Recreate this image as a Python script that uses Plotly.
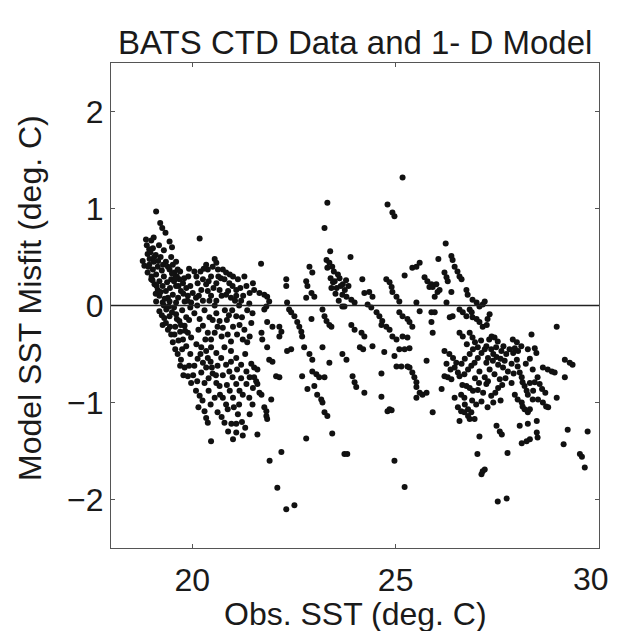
import plotly.graph_objects as go

# ---- data (obs SST, model misfit) ----
pts_a = [
    (19.11, 0.97), (19.21, 0.85), (19.26, 0.80), (19.34, 0.75), (19.44, 0.66), (19.50, 0.60),
    (18.86, 0.68), (18.99, 0.67), (18.94, 0.58), (19.03, 0.59), (18.90, 0.53),
    (18.78, 0.46), (18.82, 0.41), (18.94, 0.42), (19.03, 0.37), (18.90, 0.34), (19.11, 0.32),
    (18.99, 0.27), (19.19, 0.25), (19.07, 0.22), (19.27, 0.20), (19.15, 0.16), (19.35, 0.15),
    (19.19, 0.10), (19.40, 0.08), (19.11, 0.04), (19.27, 0.03),
    (19.44, 0.37), (19.52, 0.42), (19.56, 0.34), (19.48, 0.27), (19.64, 0.37), (19.68, 0.27),
    (19.60, 0.20), (19.77, 0.23), (19.72, 0.15), (19.85, 0.18), (19.89, 0.10), (19.81, 0.04),
    (19.97, 0.03), (20.01, 0.13), (19.52, 0.11), (19.44, 0.04), (19.60, 0.03),
    (19.19, -0.06), (19.31, -0.13), (19.27, -0.20), (19.40, -0.25), (19.48, -0.30), (19.52, -0.38),
    (19.60, -0.09), (19.68, -0.16), (19.81, -0.21), (19.89, -0.28), (19.97, -0.33), (19.77, -0.35),
    (19.44, -0.11),
    (18.95, 0.48), (19.05, 0.45), (19.15, 0.40), (19.25, 0.36), (19.30, 0.30), (19.38, 0.24),
    (19.45, 0.18), (19.55, 0.25), (19.62, 0.30), (19.70, 0.35), (19.35, 0.45), (19.22, 0.50),
    (19.10, 0.52), (19.00, 0.30), (19.10, 0.12), (19.30, 0.00), (19.36, -0.04), (19.55, -0.02),
    (19.65, 0.08), (19.75, -0.05), (19.85, -0.12), (19.58, -0.22), (19.70, -0.27), (19.95, 0.20),
    (19.90, 0.30), (20.05, 0.35),
    (18.88, 0.62), (18.97, 0.55), (19.06, 0.50), (19.16, 0.46), (19.28, 0.42), (19.40, 0.40),
    (19.50, 0.33), (19.58, 0.28), (19.66, 0.20), (19.78, 0.12), (19.88, 0.05), (19.95, -0.02),
    (18.92, 0.40), (19.02, 0.26), (19.12, 0.20), (19.22, 0.14), (19.32, 0.07), (19.42, -0.01),
    (19.50, -0.07), (19.62, -0.14), (19.72, -0.20), (19.82, -0.26), (19.92, -0.15), (19.25, -0.10),
    (19.35, -0.18), (19.45, -0.22), (19.56, -0.30), (19.66, -0.36), (19.80, 0.28), (19.92, 0.38),
    (19.60, 0.45), (19.48, 0.50), (19.30, 0.57), (19.18, 0.62), (19.05, 0.70),
]

pts_b = [
    (20.18, 0.69), (20.55, 0.48), (20.50, 0.40), (20.59, 0.44),
    (20.34, 0.42), (20.38, 0.37), (20.46, 0.30), (20.63, 0.37), (20.75, 0.37), (20.83, 0.34),
    (20.79, 0.27), (20.91, 0.23), (20.99, 0.20), (21.08, 0.16), (21.12, 0.27), (20.26, 0.27),
    (20.34, 0.22), (20.13, 0.23), (20.22, 0.16), (20.38, 0.15), (20.46, 0.10), (20.59, 0.23),
    (20.67, 0.16), (20.83, 0.11), (20.95, 0.08), (21.08, 0.10), (21.20, 0.05), (21.33, 0.20),
    (21.41, 0.13), (21.49, 0.23), (20.09, 0.08), (20.26, 0.05), (20.59, 0.05),
    (20.05, -0.08), (20.18, -0.14), (20.26, -0.21), (20.38, -0.28), (20.46, -0.35), (20.59, -0.08),
    (20.67, -0.16), (20.75, -0.23), (20.87, -0.30), (20.95, -0.37), (21.08, -0.11), (21.16, -0.20),
    (21.28, -0.25), (21.41, -0.32), (21.45, -0.18), (21.24, -0.35),
    (20.20, 0.35), (20.42, 0.05), (20.70, 0.28), (20.88, 0.15), (21.00, 0.30), (21.25, 0.10),
    (20.30, -0.05), (20.50, -0.15), (20.80, -0.05), (21.00, -0.22), (21.35, -0.05), (20.12, 0.00),
    (20.55, -0.28), (21.15, 0.00),
    (20.10, 0.30), (20.16, 0.10), (20.28, 0.38), (20.40, 0.25), (20.52, 0.18), (20.64, 0.30),
    (20.72, 0.10), (20.92, 0.32), (21.05, 0.05), (21.18, 0.18), (21.28, 0.30), (21.40, 0.02),
    (20.15, -0.25), (20.32, -0.35), (20.42, -0.12), (20.62, -0.22), (20.72, -0.32), (20.85, -0.15),
    (20.98, -0.05), (21.10, -0.30), (21.22, -0.12), (21.35, -0.38), (21.48, -0.08), (20.55, 0.00),
    (20.90, -0.10),
]

pts_c = [
    (19.64, -0.50), (19.72, -0.56), (19.81, -0.64), (19.89, -0.73), (19.97, -0.80), (20.09, -0.88),
    (20.18, -0.93), (20.13, -0.55), (20.26, -0.59), (20.34, -0.64), (20.22, -0.69), (20.30, -0.80),
    (20.59, -0.80), (20.67, -0.83),
    (20.46, -0.43), (20.59, -0.49), (20.71, -0.54), (20.83, -0.61), (20.91, -0.68), (20.99, -0.74),
    (21.08, -0.81), (21.16, -0.88), (21.24, -0.92),
    (20.79, -0.43), (20.95, -0.47), (21.08, -0.54), (21.20, -0.61), (21.33, -0.68), (21.41, -0.74),
    (21.49, -0.85), (21.33, -0.81),
    (20.75, -0.95), (20.83, -1.02), (20.87, -1.07), (21.41, -1.12), (20.30, -1.09), (20.34, -1.16),
    (20.38, -1.21), (20.79, -1.21), (20.96, -1.22), (21.08, -1.22), (21.08, -1.31), (21.24, -1.34),
    (20.46, -1.40), (20.22, -0.43), (20.34, -0.47),
    (19.58, -0.45), (19.75, -0.45), (19.95, -0.50), (20.05, -0.62), (20.45, -0.58), (20.50, -0.70),
    (20.40, -0.75), (20.62, -0.62), (20.75, -0.72), (20.85, -0.82), (21.00, -0.95), (21.15, -1.02),
    (20.95, -0.58), (21.30, -0.50), (21.45, -0.60), (20.10, -0.40), (19.85, -0.42),
    (19.70, -0.62), (19.78, -0.72), (19.92, -0.62), (20.02, -0.72), (20.12, -0.78), (20.20, -0.50),
    (20.38, -0.54), (20.48, -0.64), (20.58, -0.72), (20.68, -0.92), (20.55, -0.95), (20.45, -1.02),
    (20.62, -1.10), (20.72, -1.15), (20.92, -0.88), (21.02, -1.05), (21.12, -1.12), (21.22, -1.20),
    (21.30, -1.26), (21.20, -0.75), (21.10, -0.66), (21.40, -0.95), (21.48, -1.02), (20.25, -0.98),
    (20.15, -1.05), (20.40, -0.88), (20.88, -1.30), (21.00, -1.38),
]

pts_d = [
    (23.32, 1.06), (23.25, 0.80), (23.39, 0.56), (21.69, 0.43), (23.89, 0.50),
    (23.30, 0.47), (23.37, 0.44), (23.44, 0.40), (23.32, 0.39), (22.88, 0.40), (22.95, 0.34),
    (22.80, 0.25), (22.83, 0.20), (22.93, 0.13), (23.00, 0.09), (22.31, 0.27), (22.31, 0.20),
    (23.40, 0.28), (23.50, 0.25), (23.62, 0.28), (23.70, 0.22), (23.55, 0.18), (23.65, 0.20),
    (23.75, 0.16), (23.42, 0.18), (23.69, 0.11), (23.79, 0.09), (23.91, 0.06), (23.99, 0.03),
    (24.18, 0.27), (24.23, 0.13), (24.35, 0.14),
    (23.48, 0.35), (23.58, 0.32), (23.52, 0.12), (23.60, 0.05), (23.84, 0.20), (23.46, 0.24),
    (23.78, 0.26),
    (21.52, 0.16), (21.65, 0.13), (21.77, 0.11), (21.84, 0.09), (21.89, 0.04), (21.82, -0.01),
    (21.77, -0.04),
    (22.33, 0.03), (22.38, -0.04), (22.43, -0.07), (22.51, -0.11), (22.58, -0.17), (22.63, -0.22),
    (22.68, -0.27), (22.70, -0.32), (22.80, 0.08), (22.93, -0.14),
    (23.20, -0.04), (23.25, -0.11), (23.30, -0.16), (23.37, -0.20), (23.42, -0.22), (23.69, -0.01),
    (23.74, -0.01), (23.91, -0.20), (23.99, -0.25), (24.16, -0.28), (24.23, -0.32),
    (21.84, -0.17), (21.97, -0.22), (22.14, -0.22), (22.19, -0.27), (22.14, -0.32), (21.70, -0.28),
    (21.72, -0.35), (24.31, 0.01), (24.40, -0.02),
    (21.60, -1.33), (22.19, -1.51), (21.90, -1.60), (22.80, -1.37), (23.44, -1.32), (23.74, -1.53),
    (23.81, -1.53), (22.09, -1.88), (22.31, -2.10), (22.51, -2.06),
    (21.82, -1.14), (21.82, -1.09), (21.77, -1.05), (21.84, -1.17), (21.94, -0.97),
    (21.60, -0.81), (21.65, -0.90), (21.70, -0.92), (21.52, -0.74), (21.57, -0.78),
    (22.06, -0.73), (22.14, -0.74), (22.70, -0.73), (22.83, -0.86), (23.00, -0.83),
    (23.07, -0.92), (23.17, -0.97), (23.20, -1.00), (23.25, -1.10), (23.32, -1.14),
    (22.95, -0.68), (23.05, -0.71), (23.12, -0.74), (23.25, -0.74), (23.37, -0.59),
    (22.75, -0.43), (22.88, -0.50), (22.95, -0.56),
    (23.94, -0.73), (23.99, -0.79), (24.03, -0.84), (24.23, -0.90),
    (23.69, -0.50), (23.79, -0.56), (23.20, -0.43), (24.12, -0.43), (24.20, -0.45),
    (21.89, -0.56), (21.97, -0.58), (21.52, -0.64), (21.60, -0.66), (22.33, -0.47), (22.43, -0.45),
    (21.84, -0.43),
]

pts_e = [
    (25.17, 1.32), (24.80, 1.04), (24.97, 0.92), (24.92, 0.96),
    (26.23, 0.64), (26.05, 0.48),
    (26.37, 0.51), (26.40, 0.47), (26.45, 0.40), (26.52, 0.35), (26.57, 0.30), (26.62, 0.27),
    (25.41, 0.39), (25.51, 0.40), (25.59, 0.44), (25.22, 0.31),
    (25.71, 0.29), (25.78, 0.25), (25.88, 0.22), (25.83, 0.19), (25.91, 0.19), (26.00, 0.22),
    (26.20, 0.34), (26.25, 0.29), (26.28, 0.25),
    (24.77, 0.27), (24.85, 0.24), (24.90, 0.19), (24.92, 0.14), (25.02, 0.09), (25.09, 0.04),
    (24.43, 0.09), (26.37, 0.14), (25.96, 0.09), (26.03, 0.14), (26.08, 0.16),
    (26.74, 0.16), (26.77, 0.11),
    (26.89, 0.06), (26.99, 0.03), (27.06, -0.01), (27.14, 0.01), (27.19, 0.04),
    (25.51, 0.03), (25.59, -0.06), (26.25, 0.03),
    (24.53, -0.07), (24.60, -0.11), (24.67, -0.16), (24.65, -0.20), (24.77, -0.22),
    (25.09, -0.07), (25.17, -0.11), (25.29, -0.14), (25.34, -0.17), (25.41, -0.22),
    (25.88, -0.07), (25.96, -0.07), (25.88, -0.17), (25.91, -0.28),
    (26.40, -0.11), (26.33, -0.12),
    (26.57, -0.04), (26.65, -0.07), (26.74, -0.11), (26.82, -0.04), (26.87, -0.07), (26.89, -0.12),
    (26.99, -0.14), (27.06, -0.17), (27.14, -0.22),
    (24.85, -0.25), (24.92, -0.32), (25.02, -0.35), (25.17, -0.32), (25.29, -0.33),
    (26.57, -0.28), (26.65, -0.32), (26.82, -0.28), (26.89, -0.33),
    (24.43, -0.42), (24.72, -0.48), (25.09, -0.45), (25.22, -0.45), (25.34, -0.44),
    (24.97, -0.52), (25.02, -0.63), (25.14, -0.63), (25.29, -0.63), (25.34, -0.64),
    (24.65, -0.70), (25.76, -0.57),
    (25.41, -0.69), (25.46, -0.74), (25.51, -0.79), (25.51, -0.84), (25.59, -0.90), (25.66, -0.92),
    (25.76, -0.90), (25.51, -0.95),
    (24.65, -0.94), (24.85, -1.07), (24.80, -1.09), (24.90, -1.08), (25.91, -1.10), (26.13, -0.86),
    (26.20, -0.47), (26.32, -0.50), (26.41, -0.54), (26.49, -0.59), (26.45, -0.64), (26.53, -0.69),
    (26.20, -0.73), (26.28, -0.74), (26.37, -0.76), (26.57, -0.73), (26.69, -0.71), (26.78, -0.66),
    (26.86, -0.62), (26.94, -0.59), (27.02, -0.54), (27.11, -0.49), (27.19, -0.45), (26.82, -0.50),
    (26.90, -0.45), (27.02, -0.43), (26.74, -0.83), (26.82, -0.85), (26.90, -0.88), (27.02, -0.87),
    (27.15, -0.90), (26.61, -0.92), (26.69, -0.95), (26.53, -1.05), (26.61, -1.09), (26.69, -1.10),
    (26.78, -1.07), (26.86, -1.10), (26.78, -1.14), (26.82, -1.17), (26.94, -1.17), (26.57, -1.19),
    (26.98, -1.02), (27.11, -0.99), (27.23, -0.81), (27.19, -0.74), (27.06, -0.68), (27.23, -0.59),
    (27.06, -1.35), (27.01, -1.53), (27.14, -1.71), (27.11, -1.74), (24.97, -1.60), (25.22, -1.87),
    (26.25, -0.60), (26.35, -0.66), (26.62, -0.60), (26.70, -0.55), (26.64, -0.82), (26.95, -0.75),
    (27.05, -0.80), (26.88, -0.98), (26.70, -1.02), (26.45, -0.95), (26.95, -0.38), (27.10, -0.36),
    (26.75, -0.40),
]

pts_f = [
    (27.31, -0.09), (27.26, -0.14), (27.24, -0.20), (28.96, -0.22), (28.34, -0.30), (27.36, -0.32),
    (27.43, -0.33), (27.51, -0.37), (27.88, -0.35), (27.98, -0.38),
    (27.93, -0.44), (27.89, -0.49), (28.01, -0.47), (28.09, -0.42), (28.25, -0.45), (28.42, -0.44),
    (28.46, -0.49),
    (27.98, -0.56), (28.00, -0.63), (28.05, -0.69), (28.10, -0.74), (28.12, -0.79), (28.17, -0.83),
    (28.22, -0.88), (28.25, -0.92),
    (28.37, -0.66), (28.49, -0.74), (28.42, -0.79), (28.54, -0.81),
    (28.62, -0.64), (28.74, -0.66), (28.84, -0.68), (28.91, -0.69),
    (29.16, -0.56), (29.28, -0.59), (29.35, -0.61), (29.16, -0.74), (28.96, -0.95),
    (27.93, -0.92), (28.00, -0.97), (28.10, -1.00), (28.12, -1.04), (28.17, -1.07), (28.25, -1.10),
    (28.30, -1.07), (28.37, -0.97), (28.50, -0.97), (28.62, -1.00), (28.70, -1.04), (28.75, -1.05),
    (27.26, -1.05), (27.48, -1.24), (27.56, -1.30), (27.61, -1.33),
    (28.05, -1.24), (28.25, -1.22), (28.47, -1.19),
    (28.47, -1.31), (28.49, -1.36), (28.30, -1.38), (28.22, -1.40), (28.10, -1.42),
    (29.23, -1.28), (29.72, -1.30), (29.13, -1.43), (29.53, -1.53), (29.58, -1.56), (29.65, -1.67),
    (27.75, -1.52), (27.19, -1.69), (27.51, -2.02), (27.73, -1.99),
    (27.23, -0.42), (27.35, -0.45), (27.47, -0.43), (27.60, -0.47), (27.72, -0.50), (27.27, -0.54),
    (27.39, -0.57), (27.52, -0.61), (27.64, -0.64), (27.76, -0.68), (27.31, -0.66), (27.43, -0.71),
    (27.56, -0.76), (27.27, -0.78), (27.52, -0.85), (27.35, -0.93), (27.68, -0.57), (27.80, -0.45),
    (27.30, -0.35), (27.40, -0.50), (27.48, -0.53), (27.58, -0.55), (27.65, -0.42), (27.70, -0.75),
    (27.62, -0.82), (27.45, -0.90), (27.40, -1.00), (27.58, -0.98), (27.85, -0.60), (27.85, -0.80),
    (27.90, -0.70), (28.30, -0.55), (28.20, -0.60), (28.30, -0.80), (28.38, -0.88), (28.60, -0.86),
    (28.68, -0.90),
]

x_ticks = [20, 25, 30]
x_tick_text = ["20", "25", "30"]
y_ticks = [-2, -1, 0, 1, 2]
x_range = [18, 30]
y_range = [-2.5, 2.5]

title_text = "BATS CTD Data and 1- D Model"
x_label = "Obs. SST (deg. C)"
y_label = "Model SST Misfit (deg. C)"

all_pts = pts_a + pts_b + pts_c + pts_d + pts_e + pts_f
obs_sst = [p[0] for p in all_pts]
misfit = [p[1] for p in all_pts]

FONT = "Liberation Sans, Arial, Helvetica, sans-serif"
TXT = "#1a1a1a"
AX = "#555555"

fig = go.Figure()
fig.add_trace(go.Scatter(
    x=obs_sst, y=misfit, mode="markers",
    marker=dict(size=6, color="#111111", line=dict(width=0)),
    showlegend=False, hoverinfo="skip",
))

fig.add_shape(type="line", xref="x", yref="y", x0=x_range[0], x1=x_range[1], y0=0, y1=0,
              line=dict(color="#222222", width=1.3))

axis_common = dict(
    showgrid=False, zeroline=False, showline=True, mirror="ticks",
    linecolor=AX, linewidth=1.2, ticks="inside", ticklen=4, tickwidth=1.2, tickcolor=AX,
    tickfont=dict(family=FONT, size=32, color=TXT),
)

# the last x label sits at the very edge of the window: it is drawn as an annotation
# ending at the page edge, the axis shows the other two labels
fig.update_xaxes(range=x_range, tickvals=x_ticks,
                 ticktext=x_tick_text[:-1] + [""], ticklabelstandoff=3, **axis_common)
fig.update_yaxes(range=y_range, tickvals=y_ticks, ticklabelstandoff=0, **axis_common)

# the page body keeps its default 8px margin on every side: size the figure so the
# page exactly fills the 619x639 window and the plot box lands where the reference has it
OFF = 8
WIN_W, WIN_H = 619, 639
W, H = WIN_W - 2 * OFF, WIN_H - 2 * OFF
PL, PR, PT, PB = 111, 599, 63, 548          # plot box in window pixels
L, R, T, B = PL - OFF, (WIN_W - OFF) - PR, PT - OFF, (WIN_H - OFF) - PB
pw, ph = PR - PL, PB - PT

def px_to_paper_x(px):
    return (px - PL) / pw

def py_to_paper_y(py):
    return (PB - py) / ph

fig.update_layout(
    width=W, height=H,
    margin=dict(l=L, r=R, t=T, b=B, pad=0),
    paper_bgcolor="white", plot_bgcolor="white",
    font=dict(family=FONT, color=TXT),
    annotations=[
        dict(text=title_text, xref="paper", yref="paper",
             x=px_to_paper_x(355), y=py_to_paper_y(43), xanchor="center", yanchor="middle",
             showarrow=False, font=dict(family=FONT, size=33, color=TXT)),
        dict(text=x_tick_text[-1], xref="paper", yref="paper",
             x=px_to_paper_x(WIN_W - OFF - 1), y=py_to_paper_y(579), xanchor="right",
             yanchor="middle", showarrow=False, borderpad=0,
             font=dict(family=FONT, size=32, color=TXT)),
        dict(text=x_label, xref="paper", yref="paper",
             x=px_to_paper_x(355), y=py_to_paper_y(614), xanchor="center", yanchor="middle",
             showarrow=False, font=dict(family=FONT, size=32, color=TXT)),
        dict(text=y_label, xref="paper", yref="paper", textangle=-90,
             x=px_to_paper_x(30), y=py_to_paper_y(298), xanchor="center", yanchor="middle",
             showarrow=False, font=dict(family=FONT, size=32, color=TXT)),
    ],
)

fig.write_html("out.html", config={"displayModeBar": False})
